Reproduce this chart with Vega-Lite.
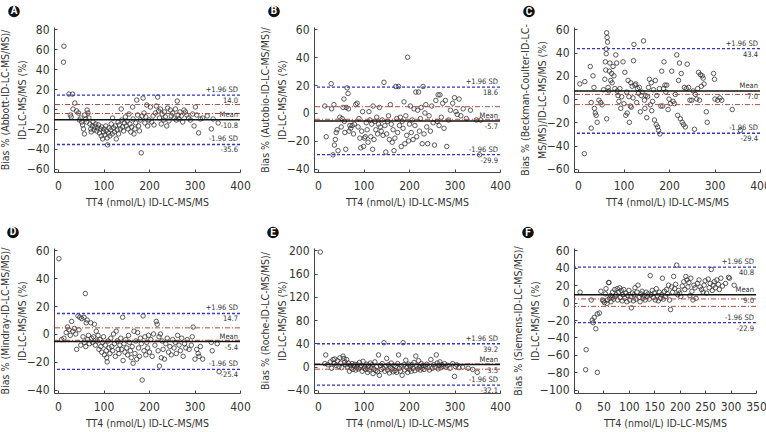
{
"$schema":"https://vega.github.io/schema/vega-lite/v6.json",
"padding":{"left":0,"top":5,"right":5,"bottom":5},
"columns":3,
"spacing":{"row":76,"column":74},
"bounds":"flush",
"config":{
 "font":"'Liberation Sans Narrow', 'DejaVu Sans Condensed', 'Roboto Condensed', Roboto, sans-serif",
 "view":{"stroke":null},
 "axis":{"grid":false,"domainColor":"#444","tickColor":"#444","labelColor":"#333","titleColor":"#333","labelFontSize":12,"titleFontSize":10.5,"titleFontWeight":"normal","tickSize":-3,"labelFlush":false,"labelOverlap":false,"titleLineHeight":17,"tickCount":20},
 "axisX":{"titlePadding":6,"labelPadding":11},
 "axisY":{"titlePadding":-1,"labelPadding":8}
},
"datasets":{
 "ptsA":[{"x":13,"y":63},{"x":12,"y":47},{"x":24,"y":15},{"x":32,"y":15},{"x":27,"y":-6},{"x":29,"y":-8},{"x":33,"y":0},{"x":37,"y":6},{"x":41,"y":-2},{"x":45,"y":-4},{"x":47,"y":-11},{"x":50,"y":-9},{"x":52,"y":-13},{"x":54,"y":-16},{"x":56,"y":-20},{"x":58,"y":-25},{"x":59,"y":-6},{"x":61,"y":-10},{"x":63,"y":-13},{"x":64,"y":-1},{"x":66,"y":-4},{"x":68,"y":-9},{"x":70,"y":-15},{"x":72,"y":-20},{"x":73,"y":-23},{"x":75,"y":-17},{"x":77,"y":-13},{"x":79,"y":-21},{"x":81,"y":-18},{"x":83,"y":-15},{"x":85,"y":-22},{"x":87,"y":-19},{"x":89,"y":-16},{"x":91,"y":-24},{"x":93,"y":-20},{"x":95,"y":-27},{"x":96,"y":-18},{"x":98,"y":-30},{"x":100,"y":-23},{"x":101,"y":-20},{"x":103,"y":-26},{"x":105,"y":-17},{"x":106,"y":-22},{"x":108,"y":-29},{"x":109,"y":-36},{"x":111,"y":-24},{"x":112,"y":-19},{"x":114,"y":-27},{"x":116,"y":-21},{"x":117,"y":-15},{"x":119,"y":-25},{"x":120,"y":-9},{"x":122,"y":-19},{"x":124,"y":-23},{"x":126,"y":-17},{"x":128,"y":-30},{"x":130,"y":-21},{"x":132,"y":-13},{"x":133,"y":-25},{"x":135,"y":-16},{"x":137,"y":-20},{"x":139,"y":0},{"x":140,"y":-11},{"x":142,"y":-18},{"x":144,"y":-22},{"x":146,"y":-14},{"x":148,"y":-8},{"x":150,"y":-17},{"x":152,"y":-12},{"x":154,"y":-20},{"x":156,"y":-5},{"x":158,"y":-15},{"x":160,"y":-23},{"x":162,"y":-18},{"x":164,"y":2},{"x":165,"y":-10},{"x":167,"y":-25},{"x":169,"y":-20},{"x":171,"y":-14},{"x":173,"y":9},{"x":175,"y":-6},{"x":177,"y":-17},{"x":179,"y":-22},{"x":181,"y":-11},{"x":183,"y":-44},{"x":185,"y":-7},{"x":187,"y":11},{"x":189,"y":-4},{"x":191,"y":-14},{"x":193,"y":-8},{"x":195,"y":4},{"x":197,"y":-17},{"x":200,"y":-11},{"x":203,"y":2},{"x":206,"y":-13},{"x":209,"y":-7},{"x":211,"y":-16},{"x":214,"y":-4},{"x":216,"y":3},{"x":219,"y":12},{"x":221,"y":-2},{"x":223,"y":-9},{"x":225,"y":0},{"x":227,"y":-15},{"x":229,"y":-5},{"x":232,"y":-11},{"x":234,"y":-3},{"x":236,"y":-8},{"x":239,"y":-17},{"x":241,"y":1},{"x":244,"y":-12},{"x":247,"y":-1},{"x":249,"y":-7},{"x":252,"y":-4},{"x":255,"y":-9},{"x":258,"y":0},{"x":260,"y":-11},{"x":262,"y":8},{"x":264,"y":-6},{"x":266,"y":-10},{"x":268,"y":-3},{"x":271,"y":-7},{"x":274,"y":-13},{"x":277,"y":-1},{"x":280,"y":-3},{"x":283,"y":-6},{"x":287,"y":-9},{"x":291,"y":-11},{"x":296,"y":-5},{"x":299,"y":-17},{"x":302,"y":2},{"x":305,"y":-6},{"x":309,"y":-24},{"x":313,"y":-10},{"x":318,"y":-9},{"x":328,"y":-7},{"x":337,"y":-20},{"x":341,"y":-10},{"x":352,"y":-14}],
 "refA":[{"v":14.0,"k":"sd","top":"+1.96 SD","bot":"14.0"},{"v":-10.8,"k":"mean","top":"Mean","bot":"-10.8"},{"v":-35.6,"k":"sd","top":"-1.96 SD","bot":"-35.6"},{"v":4.5,"k":"lim"},{"v":-4.5,"k":"lim"}],
 "ptsB":[{"x":15,"y":5},{"x":18,"y":-17},{"x":29,"y":21},{"x":30,"y":3},{"x":33,"y":-30},{"x":35,"y":6},{"x":36,"y":-23},{"x":38,"y":-19},{"x":40,"y":-14},{"x":42,"y":-12},{"x":44,"y":-27},{"x":48,"y":-3},{"x":51,"y":-10},{"x":53,"y":-4},{"x":55,"y":4},{"x":57,"y":10},{"x":58,"y":-6},{"x":59,"y":-14},{"x":61,"y":-26},{"x":62,"y":4},{"x":64,"y":18},{"x":66,"y":14},{"x":67,"y":3},{"x":68,"y":-13},{"x":70,"y":-9},{"x":72,"y":-11},{"x":75,"y":-9},{"x":78,"y":-15},{"x":80,"y":-8},{"x":83,"y":6},{"x":86,"y":7},{"x":88,"y":-10},{"x":90,"y":-4},{"x":92,"y":-18},{"x":94,"y":-25},{"x":96,"y":-13},{"x":98,"y":1},{"x":100,"y":-24},{"x":102,"y":-18},{"x":104,"y":-17},{"x":106,"y":-7},{"x":108,"y":-12},{"x":110,"y":-21},{"x":112,"y":1},{"x":114,"y":-5},{"x":116,"y":-17},{"x":118,"y":-8},{"x":120,"y":-26},{"x":121,"y":5},{"x":123,"y":-19},{"x":125,"y":-6},{"x":127,"y":-12},{"x":129,"y":-3},{"x":131,"y":-15},{"x":133,"y":-8},{"x":135,"y":4},{"x":137,"y":-10},{"x":139,"y":-13},{"x":141,"y":-5},{"x":143,"y":-16},{"x":145,"y":22},{"x":147,"y":-9},{"x":149,"y":-28},{"x":151,"y":-15},{"x":153,"y":-6},{"x":155,"y":-2},{"x":157,"y":-19},{"x":159,"y":6},{"x":161,"y":-8},{"x":163,"y":-21},{"x":165,"y":-12},{"x":167,"y":-27},{"x":169,"y":-18},{"x":171,"y":19},{"x":173,"y":-4},{"x":175,"y":-14},{"x":177,"y":19},{"x":179,"y":-9},{"x":181,"y":-3},{"x":183,"y":-24},{"x":185,"y":-6},{"x":187,"y":-11},{"x":189,"y":8},{"x":191,"y":-22},{"x":193,"y":-2},{"x":195,"y":-16},{"x":197,"y":40},{"x":199,"y":-20},{"x":201,"y":-8},{"x":203,"y":5},{"x":205,"y":-14},{"x":207,"y":-5},{"x":209,"y":-19},{"x":211,"y":3},{"x":213,"y":-9},{"x":215,"y":15},{"x":217,"y":-17},{"x":219,"y":2},{"x":221,"y":15},{"x":223,"y":-13},{"x":225,"y":-4},{"x":227,"y":4},{"x":229,"y":-22},{"x":231,"y":19},{"x":233,"y":-15},{"x":235,"y":0},{"x":237,"y":6},{"x":239,"y":-10},{"x":241,"y":-22},{"x":244,"y":-2},{"x":247,"y":-13},{"x":250,"y":5},{"x":253,"y":-7},{"x":256,"y":-23},{"x":259,"y":9},{"x":262,"y":-6},{"x":264,"y":13},{"x":266,"y":-9},{"x":268,"y":13},{"x":271,"y":-3},{"x":274,"y":7},{"x":277,"y":-11},{"x":280,"y":9},{"x":283,"y":-24},{"x":287,"y":-5},{"x":291,"y":2},{"x":296,"y":7},{"x":300,"y":11},{"x":303,"y":1},{"x":306,"y":-1},{"x":310,"y":10},{"x":314,"y":-2},{"x":319,"y":3},{"x":326,"y":-4},{"x":335,"y":2},{"x":348,"y":-5},{"x":355,"y":-30},{"x":358,"y":-5}],
 "refB":[{"v":18.6,"k":"sd","top":"+1.96 SD","bot":"18.6"},{"v":-5.7,"k":"mean","top":"Mean","bot":"-5.7"},{"v":-29.9,"k":"sd","top":"-1.96 SD","bot":"-29.9"},{"v":4.5,"k":"lim"},{"v":-4.5,"k":"lim"}],
 "ptsC":[{"x":4,"y":13},{"x":15,"y":15},{"x":14,"y":-47},{"x":27,"y":28},{"x":29,"y":-3},{"x":29,"y":-25},{"x":33,"y":20},{"x":35,"y":10},{"x":36,"y":-8},{"x":38,"y":-12},{"x":40,"y":-14},{"x":42,"y":-20},{"x":46,"y":-1},{"x":50,"y":-3},{"x":53,"y":-5},{"x":56,"y":8},{"x":59,"y":17},{"x":60,"y":32},{"x":61,"y":25},{"x":62,"y":39},{"x":62,"y":43},{"x":63,"y":57},{"x":64,"y":53},{"x":65,"y":49},{"x":66,"y":10},{"x":63,"y":-17},{"x":68,"y":7},{"x":69,"y":24},{"x":70,"y":31},{"x":72,"y":16},{"x":74,"y":22},{"x":75,"y":14},{"x":77,"y":28},{"x":79,"y":20},{"x":81,"y":9},{"x":83,"y":38},{"x":85,"y":31},{"x":86,"y":7},{"x":88,"y":3},{"x":90,"y":-2},{"x":92,"y":9},{"x":94,"y":-8},{"x":96,"y":2},{"x":99,"y":32},{"x":101,"y":-4},{"x":103,"y":23},{"x":105,"y":-14},{"x":107,"y":6},{"x":108,"y":-12},{"x":110,"y":16},{"x":112,"y":2},{"x":113,"y":-20},{"x":115,"y":-6},{"x":116,"y":14},{"x":117,"y":-7},{"x":119,"y":11},{"x":121,"y":1},{"x":122,"y":33},{"x":123,"y":47},{"x":125,"y":12},{"x":127,"y":13},{"x":129,"y":-3},{"x":131,"y":9},{"x":133,"y":5},{"x":135,"y":10},{"x":137,"y":-11},{"x":139,"y":3},{"x":141,"y":6},{"x":144,"y":50},{"x":146,"y":-1},{"x":147,"y":-8},{"x":149,"y":3},{"x":151,"y":-16},{"x":153,"y":2},{"x":155,"y":10},{"x":157,"y":17},{"x":159,"y":-5},{"x":161,"y":14},{"x":162,"y":-10},{"x":164,"y":-2},{"x":166,"y":8},{"x":168,"y":-18},{"x":170,"y":16},{"x":172,"y":-22},{"x":173,"y":3},{"x":175,"y":-24},{"x":177,"y":-27},{"x":179,"y":9},{"x":180,"y":-30},{"x":182,"y":-6},{"x":184,"y":24},{"x":186,"y":-6},{"x":188,"y":9},{"x":189,"y":32},{"x":191,"y":12},{"x":193,"y":6},{"x":195,"y":12},{"x":198,"y":-9},{"x":200,"y":0},{"x":203,"y":-4},{"x":206,"y":24},{"x":209,"y":-2},{"x":212,"y":-4},{"x":214,"y":4},{"x":217,"y":38},{"x":219,"y":-14},{"x":221,"y":16},{"x":223,"y":31},{"x":225,"y":-17},{"x":227,"y":22},{"x":229,"y":-20},{"x":232,"y":-22},{"x":234,"y":10},{"x":236,"y":-24},{"x":238,"y":9},{"x":240,"y":30},{"x":243,"y":10},{"x":246,"y":-1},{"x":250,"y":-1},{"x":253,"y":7},{"x":256,"y":-26},{"x":258,"y":4},{"x":261,"y":0},{"x":263,"y":9},{"x":265,"y":23},{"x":267,"y":-1},{"x":269,"y":21},{"x":271,"y":11},{"x":273,"y":20},{"x":275,"y":18},{"x":277,"y":13},{"x":282,"y":-11},{"x":284,"y":-20},{"x":298,"y":22},{"x":300,"y":17},{"x":301,"y":0},{"x":307,"y":-1},{"x":312,"y":1},{"x":316,"y":-1},{"x":339,"y":-9},{"x":357,"y":-27}],
 "refC":[{"v":43.4,"k":"sd","top":"+1.96 SD","bot":"43.4"},{"v":7.0,"k":"mean","top":"Mean","bot":"7.0"},{"v":-29.4,"k":"sd","top":"-1.96 SD","bot":"-29.4"},{"v":4.0,"k":"lim"},{"v":-4.8,"k":"lim"}],
 "ptsD":[{"x":2,"y":54},{"x":8,"y":-4},{"x":13,"y":-3},{"x":18,"y":1},{"x":21,"y":5},{"x":24,"y":3},{"x":27,"y":-1},{"x":30,"y":9},{"x":33,"y":2},{"x":36,"y":4},{"x":39,"y":0},{"x":41,"y":-11},{"x":44,"y":13},{"x":46,"y":3},{"x":48,"y":12},{"x":50,"y":-8},{"x":52,"y":11},{"x":55,"y":-2},{"x":57,"y":12},{"x":58,"y":-6},{"x":60,"y":29},{"x":61,"y":-9},{"x":62,"y":8},{"x":64,"y":10},{"x":65,"y":-4},{"x":67,"y":-1},{"x":69,"y":-7},{"x":72,"y":8},{"x":74,"y":-3},{"x":76,"y":-6},{"x":78,"y":-2},{"x":80,"y":7},{"x":82,"y":-8},{"x":84,"y":2},{"x":86,"y":-5},{"x":88,"y":-1},{"x":90,"y":-11},{"x":92,"y":-4},{"x":94,"y":-9},{"x":96,"y":-13},{"x":98,"y":-6},{"x":100,"y":-2},{"x":102,"y":-15},{"x":104,"y":-8},{"x":106,"y":-12},{"x":107,"y":-17},{"x":108,"y":-20},{"x":110,"y":-5},{"x":112,"y":-10},{"x":114,"y":-14},{"x":116,"y":-3},{"x":118,"y":-9},{"x":120,"y":-12},{"x":122,"y":0},{"x":124,"y":-7},{"x":126,"y":-16},{"x":128,"y":2},{"x":130,"y":-5},{"x":132,"y":-11},{"x":134,"y":-14},{"x":136,"y":-8},{"x":138,"y":-3},{"x":140,"y":-11},{"x":142,"y":12},{"x":143,"y":-19},{"x":145,"y":-7},{"x":147,"y":-13},{"x":149,"y":-4},{"x":151,"y":-10},{"x":153,"y":-15},{"x":155,"y":-1},{"x":157,"y":-6},{"x":159,"y":-12},{"x":161,"y":-17},{"x":163,"y":-9},{"x":165,"y":-21},{"x":167,"y":2},{"x":169,"y":-14},{"x":171,"y":-5},{"x":173,"y":-18},{"x":175,"y":1},{"x":177,"y":-10},{"x":179,"y":-16},{"x":181,"y":-3},{"x":183,"y":-7},{"x":185,"y":-33},{"x":187,"y":13},{"x":189,"y":-12},{"x":191,"y":-2},{"x":193,"y":-15},{"x":195,"y":-6},{"x":197,"y":-10},{"x":199,"y":-1},{"x":201,"y":-13},{"x":204,"y":-4},{"x":207,"y":-16},{"x":210,"y":0},{"x":213,"y":-8},{"x":216,"y":9},{"x":218,"y":7},{"x":220,"y":-12},{"x":222,"y":-2},{"x":223,"y":-23},{"x":225,"y":0},{"x":227,"y":-17},{"x":229,"y":-5},{"x":231,"y":-11},{"x":234,"y":-18},{"x":237,"y":-7},{"x":240,"y":-3},{"x":243,"y":-13},{"x":246,"y":-9},{"x":249,"y":-15},{"x":252,"y":-4},{"x":255,"y":-10},{"x":258,"y":-6},{"x":260,"y":-14},{"x":263,"y":-1},{"x":266,"y":-8},{"x":269,"y":-12},{"x":272,"y":-3},{"x":275,"y":-16},{"x":278,"y":-7},{"x":281,"y":-10},{"x":284,"y":-4},{"x":288,"y":-11},{"x":293,"y":-8},{"x":295,"y":-2},{"x":297,"y":5},{"x":301,"y":-18},{"x":305,"y":-11},{"x":308,"y":-14},{"x":310,"y":-16},{"x":313,"y":-9},{"x":318,"y":-18},{"x":337,"y":-6},{"x":339,"y":-12},{"x":350,"y":-7},{"x":354,"y":-27}],
 "refD":[{"v":14.7,"k":"sd","top":"+1.96 SD","bot":"14.7"},{"v":-5.4,"k":"mean","top":"Mean","bot":"-5.4"},{"v":-25.4,"k":"sd","top":"-1.96 SD","bot":"-25.4"},{"v":4.4,"k":"lim"},{"v":-4.5,"k":"lim"}],
 "ptsE":[{"x":5,"y":197},{"x":15,"y":5},{"x":17,"y":20},{"x":22,"y":3},{"x":27,"y":8},{"x":30,"y":-3},{"x":33,"y":12},{"x":35,"y":5},{"x":37,"y":13},{"x":40,"y":2},{"x":43,"y":10},{"x":46,"y":0},{"x":48,"y":15},{"x":50,"y":6},{"x":52,"y":-2},{"x":55,"y":18},{"x":57,"y":14},{"x":59,"y":8},{"x":61,"y":3},{"x":63,"y":12},{"x":65,"y":-1},{"x":67,"y":6},{"x":69,"y":-8},{"x":71,"y":2},{"x":73,"y":-3},{"x":75,"y":5},{"x":77,"y":-5},{"x":79,"y":1},{"x":81,"y":4},{"x":83,"y":-6},{"x":85,"y":-2},{"x":87,"y":3},{"x":89,"y":-4},{"x":91,"y":7},{"x":93,"y":-1},{"x":95,"y":2},{"x":97,"y":-8},{"x":99,"y":9},{"x":101,"y":-3},{"x":103,"y":0},{"x":105,"y":-5},{"x":107,"y":4},{"x":109,"y":-10},{"x":111,"y":1},{"x":113,"y":-6},{"x":115,"y":6},{"x":117,"y":-2},{"x":119,"y":3},{"x":121,"y":-12},{"x":123,"y":-4},{"x":125,"y":8},{"x":127,"y":-7},{"x":129,"y":0},{"x":131,"y":-9},{"x":133,"y":20},{"x":135,"y":-15},{"x":137,"y":2},{"x":139,"y":-5},{"x":141,"y":5},{"x":143,"y":-3},{"x":145,"y":41},{"x":147,"y":-8},{"x":149,"y":1},{"x":151,"y":14},{"x":153,"y":-6},{"x":155,"y":3},{"x":157,"y":-11},{"x":159,"y":-1},{"x":161,"y":6},{"x":163,"y":-4},{"x":165,"y":-9},{"x":167,"y":2},{"x":169,"y":-7},{"x":171,"y":0},{"x":173,"y":-10},{"x":175,"y":5},{"x":177,"y":20},{"x":179,"y":-3},{"x":181,"y":-8},{"x":183,"y":1},{"x":185,"y":-15},{"x":187,"y":41},{"x":189,"y":3},{"x":191,"y":-6},{"x":193,"y":11},{"x":195,"y":-2},{"x":197,"y":-10},{"x":199,"y":4},{"x":201,"y":-5},{"x":203,"y":0},{"x":205,"y":-8},{"x":207,"y":3},{"x":209,"y":-3},{"x":211,"y":7},{"x":213,"y":-7},{"x":215,"y":18},{"x":217,"y":1},{"x":219,"y":-4},{"x":221,"y":10},{"x":223,"y":-1},{"x":225,"y":-6},{"x":227,"y":5},{"x":229,"y":-3},{"x":231,"y":2},{"x":233,"y":-5},{"x":236,"y":0},{"x":239,"y":4},{"x":242,"y":-2},{"x":245,"y":-6},{"x":248,"y":12},{"x":251,"y":-3},{"x":254,"y":3},{"x":257,"y":-1},{"x":260,"y":20},{"x":262,"y":6},{"x":264,"y":-4},{"x":266,"y":2},{"x":268,"y":8},{"x":270,"y":-2},{"x":272,"y":3},{"x":275,"y":0},{"x":278,"y":5},{"x":281,"y":-1},{"x":285,"y":2},{"x":290,"y":-3},{"x":296,"y":5},{"x":300,"y":-17},{"x":302,"y":0},{"x":305,"y":3},{"x":310,"y":-2},{"x":318,"y":-1},{"x":330,"y":-3},{"x":340,"y":-5},{"x":350,"y":-10}],
 "refE":[{"v":39.2,"k":"sd","top":"+1.96 SD","bot":"39.2"},{"v":3.5,"k":"mean","top":"Mean","bot":"3.5"},{"v":-32.1,"k":"sd","top":"-1.96 SD","bot":"-32.1"},{"v":4.5,"k":"lim"},{"v":-4.5,"k":"lim"}],
 "ptsF":[{"x":4,"y":12},{"x":15,"y":-77},{"x":16,"y":-54},{"x":28,"y":-20},{"x":30,"y":-23},{"x":32,"y":-17},{"x":35,"y":-30},{"x":38,"y":-80},{"x":38,"y":-13},{"x":42,"y":-12},{"x":26,"y":3},{"x":45,"y":13},{"x":48,"y":3},{"x":50,"y":2},{"x":52,"y":0},{"x":54,"y":10},{"x":55,"y":16},{"x":57,"y":-1},{"x":58,"y":3},{"x":60,"y":23},{"x":61,"y":23},{"x":62,"y":5},{"x":64,"y":8},{"x":65,"y":1},{"x":67,"y":6},{"x":68,"y":12},{"x":70,"y":4},{"x":72,"y":15},{"x":73,"y":7},{"x":75,"y":9},{"x":77,"y":16},{"x":78,"y":3},{"x":80,"y":12},{"x":82,"y":17},{"x":83,"y":6},{"x":85,"y":14},{"x":87,"y":2},{"x":88,"y":9},{"x":90,"y":15},{"x":92,"y":5},{"x":94,"y":11},{"x":96,"y":1},{"x":98,"y":8},{"x":100,"y":14},{"x":102,"y":3},{"x":104,"y":7},{"x":105,"y":-6},{"x":107,"y":11},{"x":109,"y":2},{"x":110,"y":9},{"x":112,"y":17},{"x":114,"y":4},{"x":116,"y":12},{"x":118,"y":20},{"x":120,"y":6},{"x":122,"y":1},{"x":124,"y":10},{"x":126,"y":13},{"x":128,"y":5},{"x":130,"y":8},{"x":132,"y":3},{"x":134,"y":12},{"x":136,"y":7},{"x":138,"y":10},{"x":140,"y":4},{"x":142,"y":31},{"x":144,"y":9},{"x":146,"y":14},{"x":148,"y":6},{"x":150,"y":11},{"x":152,"y":3},{"x":154,"y":16},{"x":156,"y":8},{"x":158,"y":2},{"x":160,"y":12},{"x":162,"y":5},{"x":164,"y":9},{"x":166,"y":28},{"x":168,"y":4},{"x":170,"y":13},{"x":172,"y":7},{"x":174,"y":15},{"x":176,"y":10},{"x":178,"y":20},{"x":180,"y":3},{"x":182,"y":-8},{"x":184,"y":18},{"x":186,"y":12},{"x":188,"y":30},{"x":190,"y":16},{"x":192,"y":21},{"x":194,"y":43},{"x":196,"y":9},{"x":198,"y":14},{"x":200,"y":11},{"x":202,"y":7},{"x":205,"y":19},{"x":208,"y":24},{"x":210,"y":15},{"x":212,"y":30},{"x":214,"y":26},{"x":216,"y":18},{"x":218,"y":23},{"x":220,"y":8},{"x":222,"y":28},{"x":224,"y":13},{"x":226,"y":3},{"x":228,"y":20},{"x":230,"y":17},{"x":232,"y":5},{"x":235,"y":22},{"x":238,"y":26},{"x":240,"y":18},{"x":243,"y":15},{"x":246,"y":12},{"x":248,"y":20},{"x":250,"y":25},{"x":253,"y":11},{"x":256,"y":27},{"x":258,"y":17},{"x":260,"y":22},{"x":262,"y":38},{"x":264,"y":14},{"x":266,"y":20},{"x":268,"y":24},{"x":270,"y":17},{"x":273,"y":26},{"x":276,"y":21},{"x":278,"y":15},{"x":281,"y":28},{"x":284,"y":19},{"x":290,"y":22},{"x":296,"y":29},{"x":298,"y":28},{"x":307,"y":20}],
 "refF":[{"v":40.8,"k":"sd","top":"+1.96 SD","bot":"40.8"},{"v":9.0,"k":"mean","top":"Mean","bot":"9.0"},{"v":-22.9,"k":"sd","top":"-1.96 SD","bot":"-22.9"},{"v":4.2,"k":"lim"},{"v":-4.3,"k":"lim"}]
},
"concat":[
 {"width":186,"height":145,"layer":[
  {"data":{"name":"ptsA"},"mark":{"type":"point","shape":"circle","filled":false,"size":20,"stroke":"#333","strokeWidth":0.8,"opacity":1},
   "encoding":{"x":{"field":"x","type":"quantitative","scale":{"domain":[-8.8,400],"nice":false},"axis":{"values":[0,100,200,300,400],"tickCount":20,"labelOverlap":false,"title":"TT4 (nmol/L) ID-LC-MS/MS"}},
    "y":{"field":"y","type":"quantitative","scale":{"domain":[-63.2,82.3],"nice":false},"axis":{"values":[-60,-40,-20,0,20,40,60,80],"tickCount":20,"labelOverlap":false,"title":["Bias % (Abbott-ID-LC-MS/MS)/","ID-LC-MS/MS (%)"]}}}},
  {"data":{"name":"refA"},"transform":[{"filter":"datum.k=='lim'"}],"mark":{"type":"rule","stroke":"#b04a3c","strokeWidth":1,"strokeDash":[5,2,1,2]},"encoding":{"y":{"field":"v","type":"quantitative"}}},
  {"data":{"name":"refA"},"transform":[{"filter":"datum.k=='sd'"}],"mark":{"type":"rule","stroke":"#3535c0","strokeWidth":1.3,"strokeDash":[3,2]},"encoding":{"y":{"field":"v","type":"quantitative"}}},
  {"data":{"name":"refA"},"transform":[{"filter":"datum.k=='mean'"}],"mark":{"type":"rule","stroke":"#111","strokeWidth":1.5},"encoding":{"y":{"field":"v","type":"quantitative"}}},
  {"data":{"name":"refA"},"transform":[{"filter":"datum.top != null"}],"mark":{"type":"text","align":"right","baseline":"bottom","dx":-2,"dy":-1,"fontSize":7.5,"color":"#333"},"encoding":{"x":{"datum":400},"y":{"field":"v","type":"quantitative"},"text":{"field":"top"}}},
  {"data":{"name":"refA"},"transform":[{"filter":"datum.top != null"}],"mark":{"type":"text","align":"right","baseline":"top","dx":-2,"dy":2,"fontSize":7.5,"color":"#333"},"encoding":{"x":{"datum":400},"y":{"field":"v","type":"quantitative"},"text":{"field":"bot"}}},
  {"data":{"values":[{"t":"A"}]},"mark":{"type":"point","shape":"circle","filled":true,"size":135,"color":"#111","opacity":1},"encoding":{"x":{"datum":-96.7},"y":{"datum":97.9}}},
  {"data":{"values":[{"t":"A"}]},"mark":{"type":"text","color":"white","fontWeight":"bold","fontSize":10,"baseline":"middle","align":"center","font":"Roboto"},"encoding":{"x":{"datum":-96.7},"y":{"datum":97.9},"text":{"field":"t"}}}
 ]},
 {"width":186,"height":145,"layer":[
  {"data":{"name":"ptsB"},"mark":{"type":"point","shape":"circle","filled":false,"size":20,"stroke":"#333","strokeWidth":0.8,"opacity":1},
   "encoding":{"x":{"field":"x","type":"quantitative","scale":{"domain":[-8.8,400],"nice":false},"axis":{"values":[0,100,200,300,400],"tickCount":20,"labelOverlap":false,"title":"TT4 (nmol/L) ID-LC-MS/MS"}},
    "y":{"field":"y","type":"quantitative","scale":{"domain":[-42.3,61.65],"nice":false},"axis":{"values":[-40,-20,0,20,40,60],"tickCount":20,"labelOverlap":false,"title":["Bias % (Autobio-ID-LC-MS/MS)/","ID-LC-MS/MS (%)"]}}}},
  {"data":{"name":"refB"},"transform":[{"filter":"datum.k=='lim'"}],"mark":{"type":"rule","stroke":"#b04a3c","strokeWidth":1,"strokeDash":[5,2,1,2]},"encoding":{"y":{"field":"v","type":"quantitative"}}},
  {"data":{"name":"refB"},"transform":[{"filter":"datum.k=='sd'"}],"mark":{"type":"rule","stroke":"#3535c0","strokeWidth":1.3,"strokeDash":[3,2]},"encoding":{"y":{"field":"v","type":"quantitative"}}},
  {"data":{"name":"refB"},"transform":[{"filter":"datum.k=='mean'"}],"mark":{"type":"rule","stroke":"#111","strokeWidth":1.5},"encoding":{"y":{"field":"v","type":"quantitative"}}},
  {"data":{"name":"refB"},"transform":[{"filter":"datum.top != null"}],"mark":{"type":"text","align":"right","baseline":"bottom","dx":-2,"dy":-1,"fontSize":7.5,"color":"#333"},"encoding":{"x":{"datum":400},"y":{"field":"v","type":"quantitative"},"text":{"field":"top"}}},
  {"data":{"name":"refB"},"transform":[{"filter":"datum.top != null"}],"mark":{"type":"text","align":"right","baseline":"top","dx":-2,"dy":2,"fontSize":7.5,"color":"#333"},"encoding":{"x":{"datum":400},"y":{"field":"v","type":"quantitative"},"text":{"field":"bot"}}},
  {"data":{"values":[{"t":"B"}]},"mark":{"type":"point","shape":"circle","filled":true,"size":135,"color":"#111","opacity":1},"encoding":{"x":{"datum":-96.7},"y":{"datum":72.8}}},
  {"data":{"values":[{"t":"B"}]},"mark":{"type":"text","color":"white","fontWeight":"bold","fontSize":10,"baseline":"middle","align":"center","font":"Roboto"},"encoding":{"x":{"datum":-96.7},"y":{"datum":72.8},"text":{"field":"t"}}}
 ]},
 {"width":186,"height":145,"layer":[
  {"data":{"name":"ptsC"},"mark":{"type":"point","shape":"circle","filled":false,"size":20,"stroke":"#333","strokeWidth":0.8,"opacity":1},
   "encoding":{"x":{"field":"x","type":"quantitative","scale":{"domain":[-8.8,400],"nice":false},"axis":{"values":[0,100,200,300,400],"tickCount":20,"labelOverlap":false,"title":"TT4 (nmol/L) ID-LC-MS/MS"}},
    "y":{"field":"y","type":"quantitative","scale":{"domain":[-62.75,61.98],"nice":false},"axis":{"values":[-60,-40,-20,0,20,40,60],"tickCount":20,"labelOverlap":false,"title":["Bias % (Beckman-Coulter-ID-LC-","MS/MS)/ID-LC-MS/MS (%)"]}}}},
  {"data":{"name":"refC"},"transform":[{"filter":"datum.k=='lim'"}],"mark":{"type":"rule","stroke":"#b04a3c","strokeWidth":1,"strokeDash":[5,2,1,2]},"encoding":{"y":{"field":"v","type":"quantitative"}}},
  {"data":{"name":"refC"},"transform":[{"filter":"datum.k=='sd'"}],"mark":{"type":"rule","stroke":"#3535c0","strokeWidth":1.3,"strokeDash":[3,2]},"encoding":{"y":{"field":"v","type":"quantitative"}}},
  {"data":{"name":"refC"},"transform":[{"filter":"datum.k=='mean'"}],"mark":{"type":"rule","stroke":"#111","strokeWidth":1.5},"encoding":{"y":{"field":"v","type":"quantitative"}}},
  {"data":{"name":"refC"},"transform":[{"filter":"datum.top != null"}],"mark":{"type":"text","align":"right","baseline":"bottom","dx":-2,"dy":-1,"fontSize":7.5,"color":"#333"},"encoding":{"x":{"datum":400},"y":{"field":"v","type":"quantitative"},"text":{"field":"top"}}},
  {"data":{"name":"refC"},"transform":[{"filter":"datum.top != null"}],"mark":{"type":"text","align":"right","baseline":"top","dx":-2,"dy":2,"fontSize":7.5,"color":"#333"},"encoding":{"x":{"datum":400},"y":{"field":"v","type":"quantitative"},"text":{"field":"bot"}}},
  {"data":{"values":[{"t":"C"}]},"mark":{"type":"point","shape":"circle","filled":true,"size":135,"color":"#111","opacity":1},"encoding":{"x":{"datum":-107.7},"y":{"datum":75.3}}},
  {"data":{"values":[{"t":"C"}]},"mark":{"type":"text","color":"white","fontWeight":"bold","fontSize":10,"baseline":"middle","align":"center","font":"Roboto"},"encoding":{"x":{"datum":-107.7},"y":{"datum":75.3},"text":{"field":"t"}}}
 ]},
 {"width":186,"height":145,"layer":[
  {"data":{"name":"ptsD"},"mark":{"type":"point","shape":"circle","filled":false,"size":20,"stroke":"#333","strokeWidth":0.8,"opacity":1},
   "encoding":{"x":{"field":"x","type":"quantitative","scale":{"domain":[-8.8,400],"nice":false},"axis":{"values":[0,100,200,300,400],"tickCount":20,"labelOverlap":false,"title":"TT4 (nmol/L) ID-LC-MS/MS"}},
    "y":{"field":"y","type":"quantitative","scale":{"domain":[-42.3,61.65],"nice":false},"axis":{"values":[-40,-20,0,20,40,60],"tickCount":20,"labelOverlap":false,"title":["Bias % (Mindray-ID-LC-MS/MS)/","ID-LC-MS/MS (%)"]}}}},
  {"data":{"name":"refD"},"transform":[{"filter":"datum.k=='lim'"}],"mark":{"type":"rule","stroke":"#b04a3c","strokeWidth":1,"strokeDash":[5,2,1,2]},"encoding":{"y":{"field":"v","type":"quantitative"}}},
  {"data":{"name":"refD"},"transform":[{"filter":"datum.k=='sd'"}],"mark":{"type":"rule","stroke":"#3535c0","strokeWidth":1.3,"strokeDash":[3,2]},"encoding":{"y":{"field":"v","type":"quantitative"}}},
  {"data":{"name":"refD"},"transform":[{"filter":"datum.k=='mean'"}],"mark":{"type":"rule","stroke":"#111","strokeWidth":1.5},"encoding":{"y":{"field":"v","type":"quantitative"}}},
  {"data":{"name":"refD"},"transform":[{"filter":"datum.top != null"}],"mark":{"type":"text","align":"right","baseline":"bottom","dx":-2,"dy":-1,"fontSize":7.5,"color":"#333"},"encoding":{"x":{"datum":400},"y":{"field":"v","type":"quantitative"},"text":{"field":"top"}}},
  {"data":{"name":"refD"},"transform":[{"filter":"datum.top != null"}],"mark":{"type":"text","align":"right","baseline":"top","dx":-2,"dy":2,"fontSize":7.5,"color":"#333"},"encoding":{"x":{"datum":400},"y":{"field":"v","type":"quantitative"},"text":{"field":"bot"}}},
  {"data":{"values":[{"t":"D"}]},"mark":{"type":"point","shape":"circle","filled":true,"size":135,"color":"#111","opacity":1},"encoding":{"x":{"datum":-98.9},"y":{"datum":72.8}}},
  {"data":{"values":[{"t":"D"}]},"mark":{"type":"text","color":"white","fontWeight":"bold","fontSize":10,"baseline":"middle","align":"center","font":"Roboto"},"encoding":{"x":{"datum":-98.9},"y":{"datum":72.8},"text":{"field":"t"}}}
 ]},
 {"width":186,"height":145,"layer":[
  {"data":{"name":"ptsE"},"mark":{"type":"point","shape":"circle","filled":false,"size":20,"stroke":"#333","strokeWidth":0.8,"opacity":1},
   "encoding":{"x":{"field":"x","type":"quantitative","scale":{"domain":[-8.8,400],"nice":false},"axis":{"values":[0,100,200,300,400],"tickCount":20,"labelOverlap":false,"title":"TT4 (nmol/L) ID-LC-MS/MS"}},
    "y":{"field":"y","type":"quantitative","scale":{"domain":[-45.5,203.96],"nice":false},"axis":{"values":[-40,0,40,80,120,160,200],"tickCount":20,"labelOverlap":false,"title":["Bias % (Roche-ID-LC-MS/MS)/","ID-LC-MS/MS (%)"]}}}},
  {"data":{"name":"refE"},"transform":[{"filter":"datum.k=='lim'"}],"mark":{"type":"rule","stroke":"#b04a3c","strokeWidth":1,"strokeDash":[5,2,1,2]},"encoding":{"y":{"field":"v","type":"quantitative"}}},
  {"data":{"name":"refE"},"transform":[{"filter":"datum.k=='sd'"}],"mark":{"type":"rule","stroke":"#3535c0","strokeWidth":1.3,"strokeDash":[3,2]},"encoding":{"y":{"field":"v","type":"quantitative"}}},
  {"data":{"name":"refE"},"transform":[{"filter":"datum.k=='mean'"}],"mark":{"type":"rule","stroke":"#111","strokeWidth":1.5},"encoding":{"y":{"field":"v","type":"quantitative"}}},
  {"data":{"name":"refE"},"transform":[{"filter":"datum.top != null"}],"mark":{"type":"text","align":"right","baseline":"bottom","dx":-2,"dy":-1,"fontSize":7.5,"color":"#333"},"encoding":{"x":{"datum":400},"y":{"field":"v","type":"quantitative"},"text":{"field":"top"}}},
  {"data":{"name":"refE"},"transform":[{"filter":"datum.top != null"}],"mark":{"type":"text","align":"right","baseline":"top","dx":-2,"dy":2,"fontSize":7.5,"color":"#333"},"encoding":{"x":{"datum":400},"y":{"field":"v","type":"quantitative"},"text":{"field":"bot"}}},
  {"data":{"values":[{"t":"E"}]},"mark":{"type":"point","shape":"circle","filled":true,"size":135,"color":"#111","opacity":1},"encoding":{"x":{"datum":-98.9},"y":{"datum":230.6}}},
  {"data":{"values":[{"t":"E"}]},"mark":{"type":"text","color":"white","fontWeight":"bold","fontSize":10,"baseline":"middle","align":"center","font":"Roboto"},"encoding":{"x":{"datum":-98.9},"y":{"datum":230.6},"text":{"field":"t"}}}
 ]},
 {"width":182,"height":145,"layer":[
  {"data":{"name":"ptsF"},"mark":{"type":"point","shape":"circle","filled":false,"size":20,"stroke":"#333","strokeWidth":0.8,"opacity":1},
   "encoding":{"x":{"field":"x","type":"quantitative","scale":{"domain":[-7.9,350],"nice":false},"axis":{"values":[0,50,100,150,200,250,300,350],"tickCount":20,"labelOverlap":false,"title":"TT4 (nmol/L) ID-LC-MS/MS"}},
    "y":{"field":"y","type":"quantitative","scale":{"domain":[-103.67,62.64],"nice":false},"axis":{"values":[-100,-80,-60,-40,-20,0,20,40,60],"tickCount":20,"labelOverlap":false,"title":["Bias % (Siemens-ID-LC-MS/MS)/","ID-LC-MS/MS (%)"]}}}},
  {"data":{"name":"refF"},"transform":[{"filter":"datum.k=='lim'"}],"mark":{"type":"rule","stroke":"#b04a3c","strokeWidth":1,"strokeDash":[5,2,1,2]},"encoding":{"y":{"field":"v","type":"quantitative"}}},
  {"data":{"name":"refF"},"transform":[{"filter":"datum.k=='sd'"}],"mark":{"type":"rule","stroke":"#3535c0","strokeWidth":1.3,"strokeDash":[3,2]},"encoding":{"y":{"field":"v","type":"quantitative"}}},
  {"data":{"name":"refF"},"transform":[{"filter":"datum.k=='mean'"}],"mark":{"type":"rule","stroke":"#111","strokeWidth":1.5},"encoding":{"y":{"field":"v","type":"quantitative"}}},
  {"data":{"name":"refF"},"transform":[{"filter":"datum.top != null"}],"mark":{"type":"text","align":"right","baseline":"bottom","dx":-2,"dy":-1,"fontSize":7.5,"color":"#333"},"encoding":{"x":{"datum":350},"y":{"field":"v","type":"quantitative"},"text":{"field":"top"}}},
  {"data":{"name":"refF"},"transform":[{"filter":"datum.top != null"}],"mark":{"type":"text","align":"right","baseline":"top","dx":-2,"dy":2,"fontSize":7.5,"color":"#333"},"encoding":{"x":{"datum":350},"y":{"field":"v","type":"quantitative"},"text":{"field":"bot"}}},
  {"data":{"values":[{"t":"F"}]},"mark":{"type":"point","shape":"circle","filled":true,"size":135,"color":"#111","opacity":1},"encoding":{"x":{"datum":-98.4},"y":{"datum":80.4}}},
  {"data":{"values":[{"t":"F"}]},"mark":{"type":"text","color":"white","fontWeight":"bold","fontSize":10,"baseline":"middle","align":"center","font":"Roboto"},"encoding":{"x":{"datum":-98.4},"y":{"datum":80.4},"text":{"field":"t"}}}
 ]}
]
}
